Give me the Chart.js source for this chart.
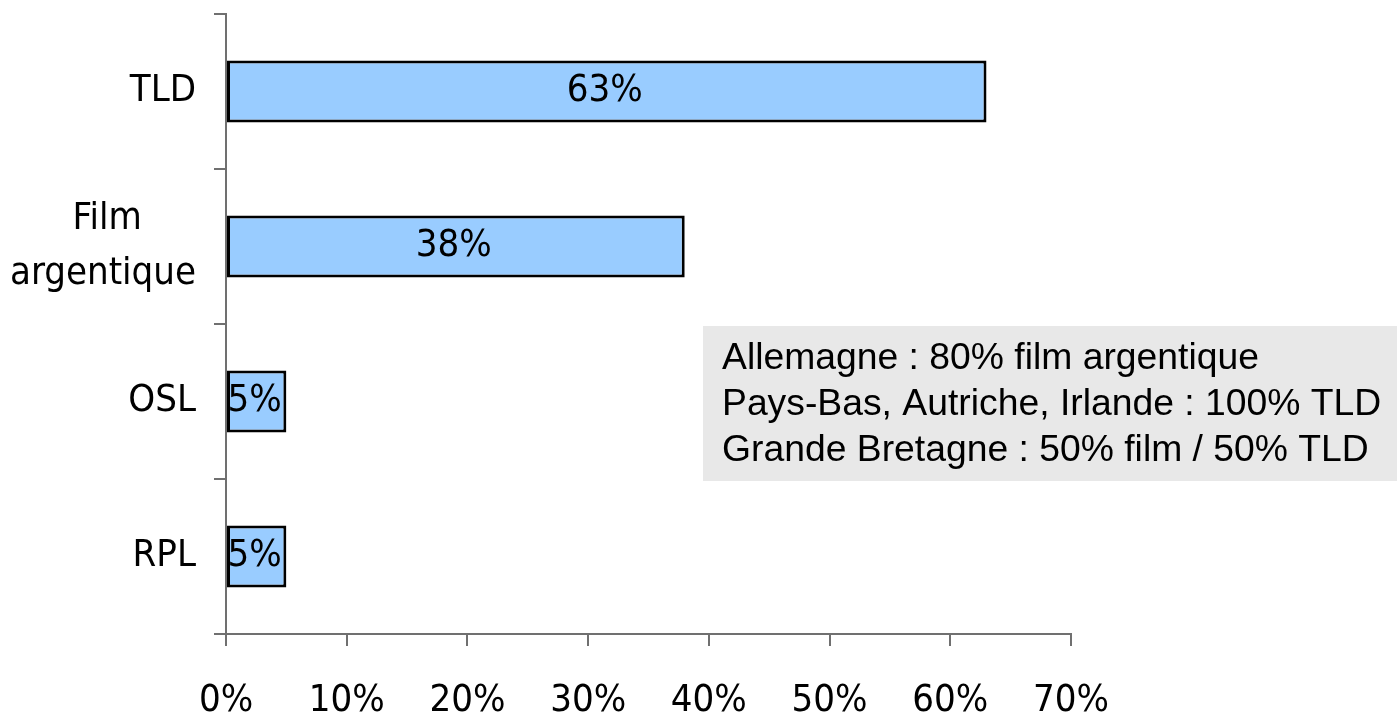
<!DOCTYPE html>
<html lang="fr">
  <head>
    <meta charset="UTF-8" />
    <title>Dosimètres</title>
    <script src="https://cdn.jsdelivr.net/npm/chart.js@4.4.1/dist/chart.umd.min.js"></script>
    <style>
      html, body { margin: 0; padding: 0; background: #ffffff; }
      #wrap { width: 1397px; height: 712px; }
    </style>
  </head>
  <body>
    <div id="wrap"><canvas id="chart" width="1397" height="712"></canvas></div>

    <script>
      // data
      const categories = ['TLD', ['Film', 'argentique'], 'OSL', 'RPL'];
      const shares = [63, 38, 5, 5];
      const xTicks = [0, 10, 20, 30, 40, 50, 60, 70];
      const noteLines = [
        'Allemagne : 80% film argentique',
        'Pays-Bas, Autriche, Irlande : 100% TLD',
        'Grande Bretagne : 50% film / 50% TLD',
      ];

      const labelFamily = 'DejaVu Sans Condensed';
      const labelSize = 38;
      const axisColor = '#707070';

      // two-line labels are centred on each other, but the block stays right aligned
      const measureCtx = document.createElement('canvas').getContext('2d');
      measureCtx.font = `${labelSize}px "${labelFamily}"`;
      function centreLines(label) {
        if (!Array.isArray(label)) return label;
        const widths = label.map((l) => measureCtx.measureText(l).width);
        const widest = Math.max(...widths);
        const space = measureCtx.measureText(' ').width;
        return label.map((l, i) => {
          const n = Math.round((widest - widths[i]) / 2 / space);
          return l + ' '.repeat(n);
        });
      }

      // value labels inside the bars
      const barLabels = {
        id: 'barLabels',
        afterDatasetsDraw(chart) {
          const ctx = chart.ctx;
          const meta = chart.getDatasetMeta(0);
          ctx.save();
          ctx.font = `${labelSize}px "${labelFamily}"`;
          ctx.fillStyle = '#000';
          ctx.textAlign = 'center';
          ctx.textBaseline = 'middle';
          meta.data.forEach((bar, i) => {
            const cx = (bar.x + bar.base) / 2;
            ctx.fillText(shares[i] + '%', cx - 2, bar.y);
          });
          ctx.restore();
        },
      };

      // grey note box on the right
      const noteBox = {
        id: 'noteBox',
        afterDraw(chart) {
          const ctx = chart.ctx;
          ctx.save();
          ctx.fillStyle = '#e8e8e8';
          ctx.fillRect(703, 326, 694, 155);
          ctx.font = '37.3px "Liberation Sans"';
          ctx.fillStyle = '#000';
          ctx.textAlign = 'left';
          ctx.textBaseline = 'middle';
          noteLines.forEach((line, i) => {
            ctx.fillText(line, 722, 359 + i * 46);
          });
          ctx.restore();
        },
      };

      new Chart(document.getElementById('chart'), {
        type: 'bar',
        data: {
          labels: categories,
          datasets: [
            {
              data: shares,
              backgroundColor: '#99ccff',
              borderColor: '#000',
              borderWidth: 3,
              borderSkipped: false,
              categoryPercentage: 1,
              barPercentage: 0.4,
            },
          ],
        },
        options: {
          indexAxis: 'y',
          responsive: false,
          animation: false,
          layout: { padding: { top: 14, right: 326, left: 0, bottom: 0 } },
          plugins: {
            legend: { display: false },
            tooltip: { enabled: false },
          },
          scales: {
            x: {
              min: 0,
              max: 70,
              afterBuildTicks(scale) {
                scale.ticks = xTicks.map((v) => ({ value: v }));
              },
              afterFit(scale) {
                scale.height = 78;
                scale.paddingLeft = 0;
                scale.paddingRight = 0;
              },
              ticks: {
                callback: (v) => v + '%',
                color: '#000',
                font: { family: labelFamily, size: labelSize },
                padding: 32,
                maxRotation: 0,
              },
              grid: {
                drawOnChartArea: false,
                tickLength: 12,
                color: axisColor,
                lineWidth: 2,
              },
              border: { color: axisColor, width: 2 },
            },
            y: {
              afterFit(scale) {
                scale.width = 226;
                scale.paddingTop = 0;
                scale.paddingBottom = 0;
              },
              ticks: {
                callback: (v, i) => centreLines(categories[i]),
                color: '#000',
                font: { family: labelFamily, size: labelSize, lineHeight: 1.45 },
                padding: 18,
              },
              grid: {
                offset: true,
                drawOnChartArea: false,
                tickLength: 12,
                color: axisColor,
                lineWidth: 2,
              },
              border: { color: axisColor, width: 2 },
            },
          },
        },
        plugins: [barLabels, noteBox],
      });
    </script>
  </body>
</html>
